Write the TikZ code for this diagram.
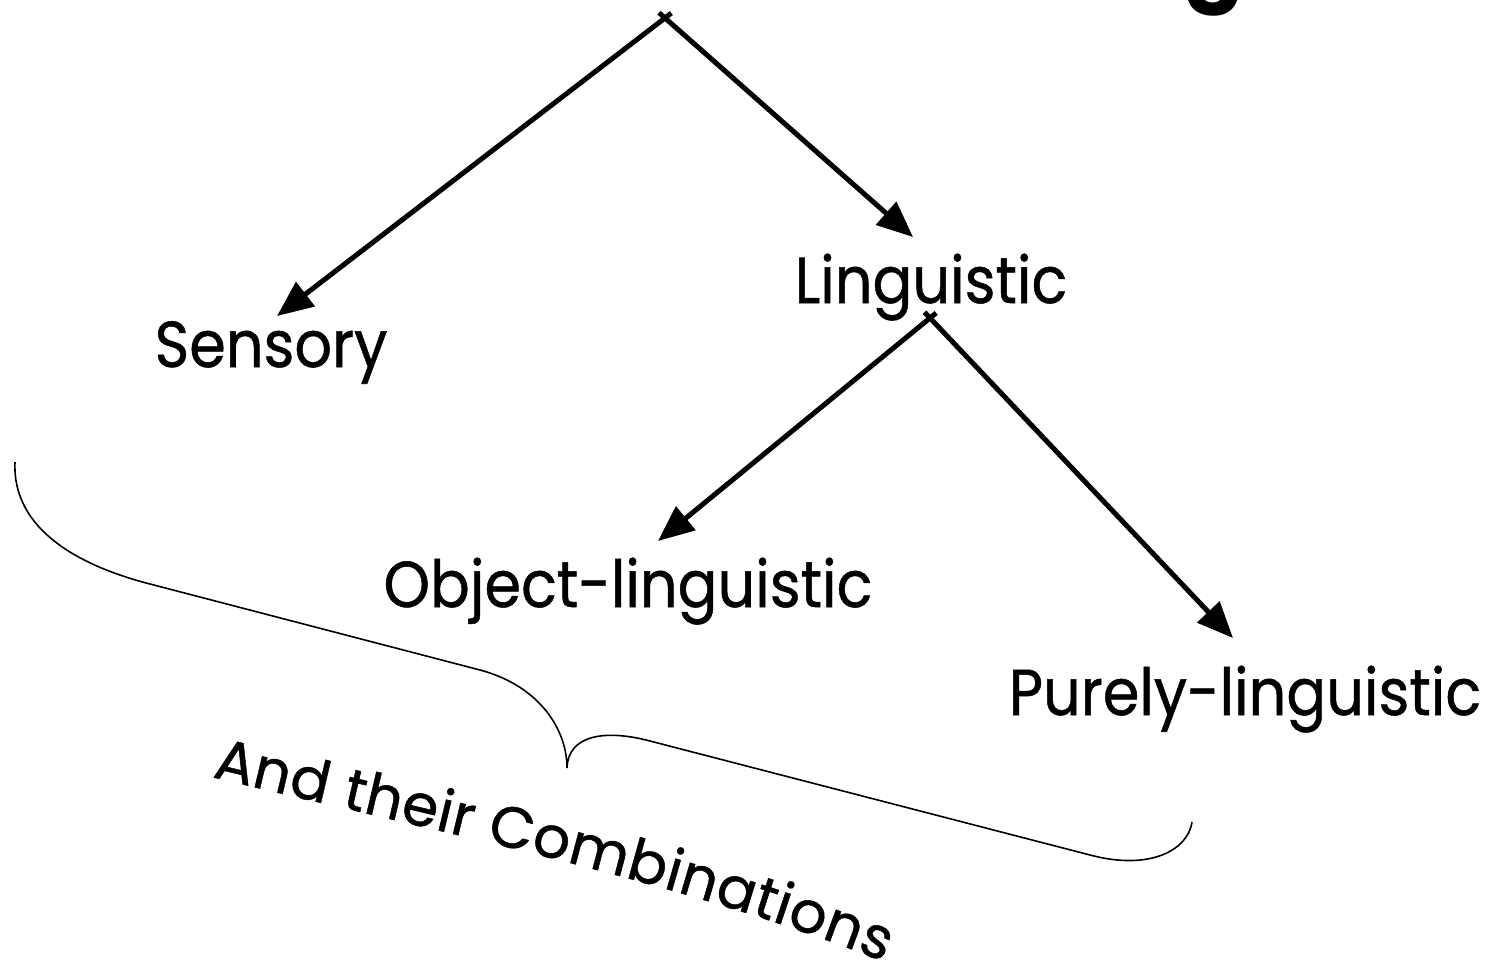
\documentclass[tikz,border=0pt]{standalone}
\usepackage{fontspec}
\setmainfont{Poppins}
\newfontfamily\wordfont{Poppins}[FakeBold=0.8]
\newcommand\tallword[1]{\scalebox{1}[1.1]{#1}}
\usetikzlibrary{arrows.meta,decorations.text}
\begin{document}
\begin{tikzpicture}[x=1pt,y=-1pt,
  word/.style={font=\wordfont\fontsize{59}{70}\selectfont, inner sep=0pt, anchor=base},
  branch/.style={line width=5pt, -{Triangle[length=36pt,width=30pt]}, shorten <=-8pt},
  bracepath/.style={line width=1.6pt}]
\useasboundingbox (0,0) rectangle (1495,976);
\fill[white] (0,0) rectangle (1495,976);

% heading, cut off by the top edge
\node[font=\fontsize{90}{100}\selectfont\bfseries, anchor=base east, inner sep=0pt] (title) at (1245,-8) {g};

% categories
\node[word] (sens) at (271,367) {\tallword{Sensory}};
\node[word] (ling) at (931,303) {\tallword{Linguistic}};
\node[word] (obj)  at (628,607) {\tallword{Object-linguistic}};
\node[word] (pure) at (1245,715) {\tallword{Purely-linguistic}};

% branch points and arrow tips
\coordinate (root)    at (665,18);
\coordinate (lingtop) at (930,318);
\coordinate (sensin)  at (277,316);
\coordinate (lingin)  at (913,237);
\coordinate (objin)   at (658,541);
\coordinate (purein)  at (1233,638);

\draw[branch] (root) -- (sensin);
\draw[branch] (root) -- (lingin);
\draw[branch] (lingtop) -- (objin);
\draw[branch] (lingtop) -- (purein);

% brace gathering the categories
\draw[bracepath] (15,462) .. controls (12,530) and (80,566) .. (150,584)
  -- (480,670) .. controls (540,686) and (567,730) .. (567,768)
  .. controls (568,735) and (605,729) .. (650,741)
  -- (1090,855) .. controls (1150,871) and (1188,850) .. (1192,822);

% caption under the brace
\path[decorate, decoration={text along path,
    text={|\wordfont\fontsize{58}{70}\selectfont|And their Combinations},
    text align=fit to path}]
  (212,777) .. controls (430,830) and (680,880) .. (884,962);
\end{tikzpicture}
\end{document}
